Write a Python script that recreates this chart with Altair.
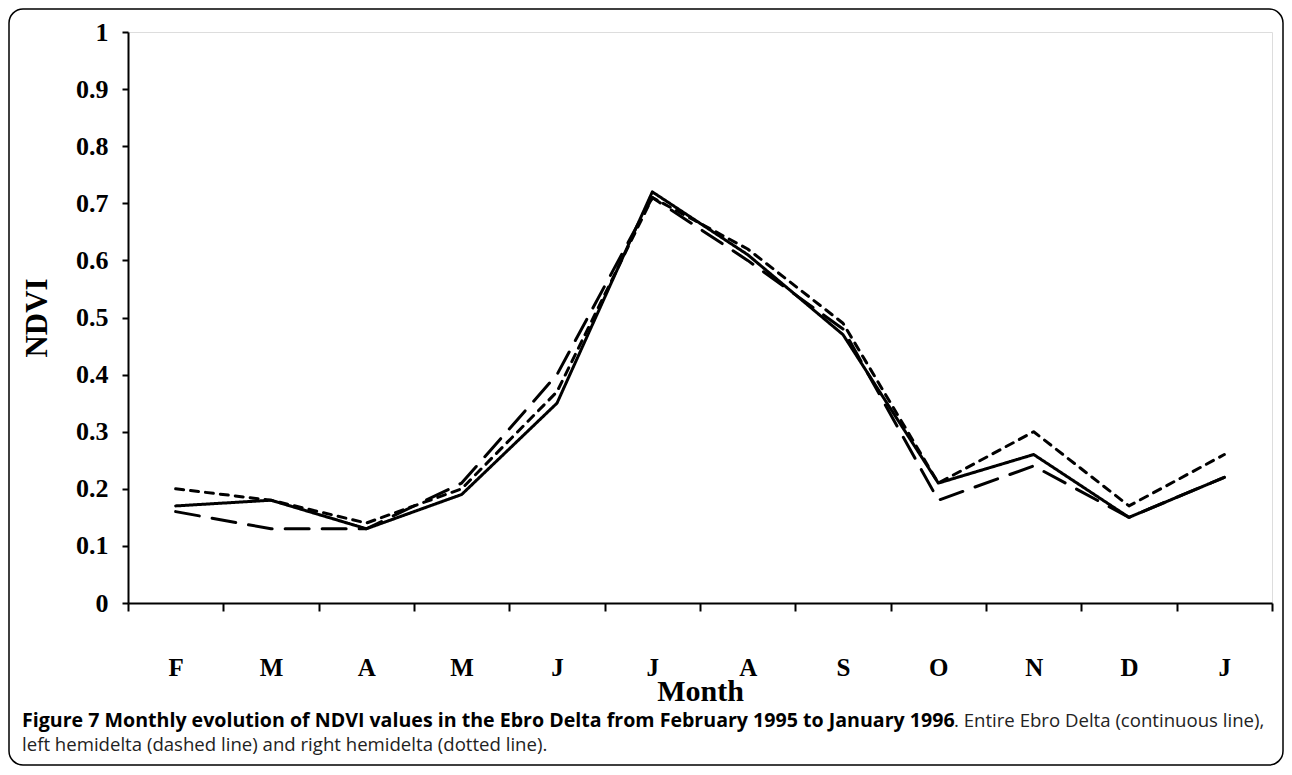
import altair as alt
import pandas as pd

months = ["F", "M", "A", "M ", "J", "J ", "A ", "S", "O", "N", "D", "J  "]
entire = [0.17, 0.18, 0.13, 0.19, 0.35, 0.72, 0.61, 0.47, 0.21, 0.26, 0.15, 0.22]
left = [0.16, 0.13, 0.13, 0.21, 0.40, 0.71, 0.60, 0.48, 0.18, 0.24, 0.15, 0.22]
right = [0.20, 0.18, 0.14, 0.20, 0.37, 0.71, 0.62, 0.49, 0.21, 0.30, 0.17, 0.26]
series_names = ["Entire Ebro Delta", "Left hemidelta", "Right hemidelta"]
y_ticks = [0, 0.1, 0.2, 0.3, 0.4, 0.5, 0.6, 0.7, 0.8, 0.9, 1.0]

caption_bold = "Figure 7 Monthly evolution of NDVI values in the Ebro Delta from February 1995 to January 1996"
caption_rest = ". Entire Ebro Delta (continuous line),"
caption_line2 = "left hemidelta (dashed line) and right hemidelta (dotted line)."

rows = []
for name, vals in zip(series_names, [entire, left, right]):
    for i, (m, v) in enumerate(zip(months, vals)):
        rows.append({"month": m, "order": i, "series": name, "ndvi": v})
df = pd.DataFrame(rows)

W, H = 1144, 571
FONT = "Liberation Serif"
CAPFONT = "Open Sans"
CAPSIZE = 18.6

x_enc = alt.X(
    "month:N",
    sort=months,
    bandPosition=0.5,
    scale=alt.Scale(type="band", paddingInner=0, paddingOuter=0),
    axis=alt.Axis(
        title="Month",
        tickBand="extent",
        labelAngle=0,
        labelFont=FONT,
        labelFontWeight="bold",
        labelFontSize=25,
        labelPadding=44,
        labelColor="black",
        tickSize=8,
        tickWidth=2,
        tickColor="black",
        domainColor="black",
        domainWidth=2,
        titleFont=FONT,
        titleFontWeight="bold",
        titleFontSize=30,
        titleBaseline="alphabetic",
        titleY=97,
        titleColor="black",
        grid=False,
    ),
)
y_enc = alt.Y(
    "ndvi:Q",
    scale=alt.Scale(domain=[0, 1], nice=False),
    axis=alt.Axis(
        title="NDVI",
        values=y_ticks,
        format=".1~f",
        labelFont=FONT,
        labelFontWeight="bold",
        labelFontSize=26,
        labelPadding=14,
        labelColor="black",
        tickSize=6,
        tickWidth=2,
        tickColor="black",
        domainColor="black",
        domainWidth=2,
        titleFont=FONT,
        titleFontWeight="bold",
        titleFontSize=31,
        titlePadding=22,
        titleColor="black",
        grid=False,
    ),
)

lines = alt.Chart(df).mark_line(color="black", strokeWidth=3, strokeCap="round", strokeJoin="round").encode(
    x=x_enc,
    y=y_enc,
    detail="series:N",
    order="order:Q",
    strokeDash=alt.StrokeDash(
        "series:N",
        scale=alt.Scale(domain=series_names, range=[[1, 0], [24, 13], [8, 7]]),
        legend=None,
    ),
)

one = pd.DataFrame({"k": [0]})
frame = alt.Chart(one).mark_rect(
    fill=None, stroke="black", strokeWidth=1.5, cornerRadius=14, clip=False
).encode(
    x=alt.value(-119), x2=alt.value(1155), y=alt.value(-23), y2=alt.value(733)
)

cap1 = alt.Chart(one).mark_text(
    text=caption_bold, font=CAPFONT, fontWeight="bold", fontSize=19.6,
    align="left", baseline="alphabetic", color="black"
).encode(x=alt.value(-106), y=alt.value(695))
cap1b = alt.Chart(one).mark_text(
    text=caption_rest, font=CAPFONT, fontSize=CAPSIZE,
    align="left", baseline="alphabetic", color="#222222"
).encode(x=alt.value(826), y=alt.value(695))
cap2 = alt.Chart(one).mark_text(
    text=caption_line2, font=CAPFONT, fontSize=CAPSIZE,
    align="left", baseline="alphabetic", color="#222222"
).encode(x=alt.value(-106), y=alt.value(719))

chart = alt.layer(frame, lines, cap1, cap1b, cap2).properties(
    width=W,
    height=H,
    autosize=alt.AutoSizeParams(type="none"),
    padding={"left": 120, "top": 24, "right": 12, "bottom": 164},
).configure_view(stroke=None).configure(background="white")

chart.save("out.html", embed_options={"renderer": "svg", "actions": False})
